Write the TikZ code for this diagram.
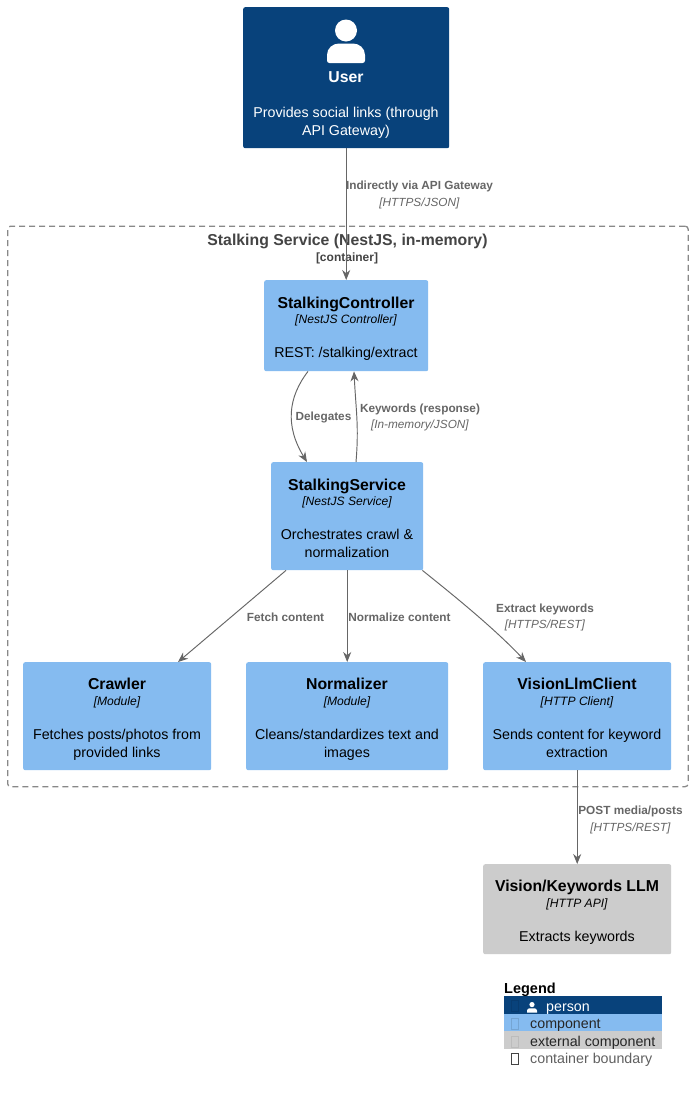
\documentclass[tikz,border=0pt]{standalone}
\usepackage{fontspec}
\setmainfont{Liberation Sans}
\usetikzlibrary{arrows.meta}
\definecolor{personc}{HTML}{08427B}
\definecolor{compc}{HTML}{85BBF0}
\definecolor{extc}{HTML}{CCCCCC}
\definecolor{linec}{HTML}{666666}
\definecolor{bndc}{HTML}{444444}
\definecolor{dashc}{HTML}{888888}
\tikzset{
  x=1pt,y=-1pt,
  box/.style={rounded corners=2pt,inner sep=0pt,anchor=north west},
  boxtext/.style={align=center,inner sep=0pt,anchor=north},
  ptitle/.style={boxtext,font=\fontsize{15.8}{19}\selectfont\bfseries},
  ptech/.style={boxtext,font=\fontsize{12.1}{15}\selectfont\itshape},
  pbody/.style={boxtext,font=\fontsize{14.25}{17.5}\selectfont},
  conn/.style={draw=linec,line width=0.95pt,-{Stealth[length=10pt,width=8pt]}},
  rel/.style={align=center,inner sep=0pt,text=linec,font=\fontsize{11.8}{16.5}\selectfont},
  legtext/.style={inner sep=0pt,anchor=west,font=\fontsize{14.25}{16}\selectfont},
  legbox/.style={draw,line width=0.7pt,minimum width=7.5pt,minimum height=11pt,inner sep=0pt},
}
\begin{document}
\begin{tikzpicture}
\useasboundingbox (0,0) rectangle (693,1093);
\fill[white] (0,0) rectangle (693,1093);
% boundary
\node[box,rounded corners=3pt,draw=dashc,dash pattern=on 6pt off 4pt,line width=1.3pt,minimum width=680.5pt,minimum height=560.5pt] (bnd) at (7,225.5) {};
\node[inner sep=0pt,text=bndc,font=\fontsize{15.8}{19}\selectfont\bfseries] (bndt) at (347.5,241.5) {Stalking Service (NestJS, in-memory)};
\node[inner sep=0pt,text=bndc,font=\fontsize{12}{15}\selectfont\bfseries] (bnds) at (347,258) {[container]};
% boxes
\node[box,fill=personc,minimum width=206pt,minimum height=141pt] (user) at (243,7) {};
\node[box,fill=compc,minimum width=164pt,minimum height=91pt] (ctrl) at (264,280) {};
\node[box,fill=compc,minimum width=152pt,minimum height=108pt] (svc) at (271,462) {};
\node[box,fill=compc,minimum width=188pt,minimum height=108pt] (crawl) at (23,662) {};
\node[box,fill=compc,minimum width=202pt,minimum height=108pt] (norm) at (246,662) {};
\node[box,fill=compc,minimum width=188pt,minimum height=108pt] (vlc) at (483,662) {};
\node[box,fill=extc,minimum width=188pt,minimum height=90pt] (llm) at (483,864) {};
% person icon
\fill[white] (346,30.5) circle (11pt);
\fill[white] (327,60.5) -- (327,55) .. controls (327,48) and (333,43.5) .. (339,43.5) -- (353,43.5) .. controls (359,43.5) and (365,48) .. (365,55) -- (365,60.5) .. controls (365,62) and (364,63) .. (362.5,63) -- (329.5,63) .. controls (328,63) and (327,62) .. (327,60.5) -- cycle;
% box text
\node[ptitle,text=white] (usert) at (346,71) {User};
\node[pbody,text=white] (userd) at (346,107) {Provides social links (through\\API Gateway)};
\node[ptitle] (ctrlt) at (346,297) {StalkingController};
\node[ptech] (ctrls) at (346,315) {[NestJS Controller]};
\node[pbody] (ctrld) at (346,347) {REST: /stalking/extract};
\node[ptitle] (svct) at (347,478.5) {StalkingService};
\node[ptech] (svcs) at (347,497) {[NestJS Service]};
\node[pbody] (svcd) at (347,529) {Orchestrates crawl \&\\normalization};
\node[ptitle] (crawlt) at (117,678) {Crawler};
\node[ptech] (crawls) at (117,697) {[Module]};
\node[pbody] (crawld) at (117,729) {Fetches posts/photos from\\provided links};
\node[ptitle] (normt) at (347,678) {Normalizer};
\node[ptech] (norms) at (347,697) {[Module]};
\node[pbody] (normd) at (347,729) {Cleans/standardizes text and\\images};
\node[ptitle] (vlct) at (577,678) {VisionLlmClient};
\node[ptech] (vlcs) at (577,697) {[HTTP Client]};
\node[pbody] (vlcd) at (577,729) {Sends content for keyword\\extraction};
\node[ptitle] (llmt) at (577,880) {Vision/Keywords LLM};
\node[ptech] (llms) at (577,899) {[HTTP API]};
\node[pbody] (llmd) at (577,931) {Extracts keywords};
% connectors
\draw[conn] (user.south) -- (ctrl.north);
\draw[conn] ([xshift=44pt]ctrl.south west) .. controls +(-20,26) and +(-22,-36) .. ([xshift=36pt]svc.north west);
\draw[conn] ([xshift=85pt]svc.north west) .. controls +(3,-36) and +(2,40) .. ([xshift=90pt]ctrl.south west);
\draw[conn] ([xshift=15pt]svc.south west) -- ([xshift=155pt]crawl.north west);
\draw[conn] (svc.south) -- (norm.north);
\draw[conn] ([xshift=-1pt]svc.south east) .. controls +(30,24) and +(-32,-34) .. ([xshift=43pt]vlc.north west);
\draw[conn] (vlc.south) -- (llm.north);
% relation labels
\node[rel] (r1) at (419.5,195) {\textbf{Indirectly via API Gateway}\\\textit{[HTTPS/JSON]}};
\node[rel] (r2) at (323.5,417.5) {\textbf{Delegates}};
\node[rel] (r3) at (420,417.5) {\textbf{Keywords (response)}\\\textit{[In-memory/JSON]}};
\node[rel] (r4) at (285.5,617.5) {\textbf{Fetch content}};
\node[rel] (r5) at (399.5,617.5) {\textbf{Normalize content}};
\node[rel] (r6) at (545,617.5) {\textbf{Extract keywords}\\\textit{[HTTPS/REST]}};
\node[rel] (r7) at (630.5,820) {\textbf{POST media/posts}\\\textit{[HTTPS/REST]}};
% legend
\node[inner sep=0pt,anchor=west,font=\fontsize{14.5}{16}\selectfont\bfseries] (legt) at (504,990) {Legend};
\fill[personc] (504,996) rectangle (662,1013.5);
\fill[compc] (504,1013.5) rectangle (662,1031);
\fill[extc] (504,1031) rectangle (662,1049);
\node[legbox,draw=personc!90!black] (lb1) at (515,1006) {};
\node[legbox,draw=compc!88!black] (lb2) at (515,1024) {};
\node[legbox,draw=extc!92!black] (lb3) at (515,1042) {};
\node[legbox,draw=bndc] (lb4) at (515,1058.5) {};
\fill[white] (532,1004.6) circle (2.6pt);
\fill[white] (527,1012.5) -- (527,1010.5) .. controls (527,1008.8) and (528.5,1008.3) .. (530,1008.3) -- (534,1008.3) .. controls (535.5,1008.3) and (537,1008.8) .. (537,1010.5) -- (537,1012.5) -- cycle;
\node[legtext,text=white] (l1) at (546,1009) {person};
\node[legtext,text=black!85] (l2) at (530,1025) {component};
\node[legtext,text=black!85] (l3) at (530,1042.5) {external component};
\node[legtext,text=bndc!85] (l4) at (530,1059.5) {container boundary};
\end{tikzpicture}
\end{document}
